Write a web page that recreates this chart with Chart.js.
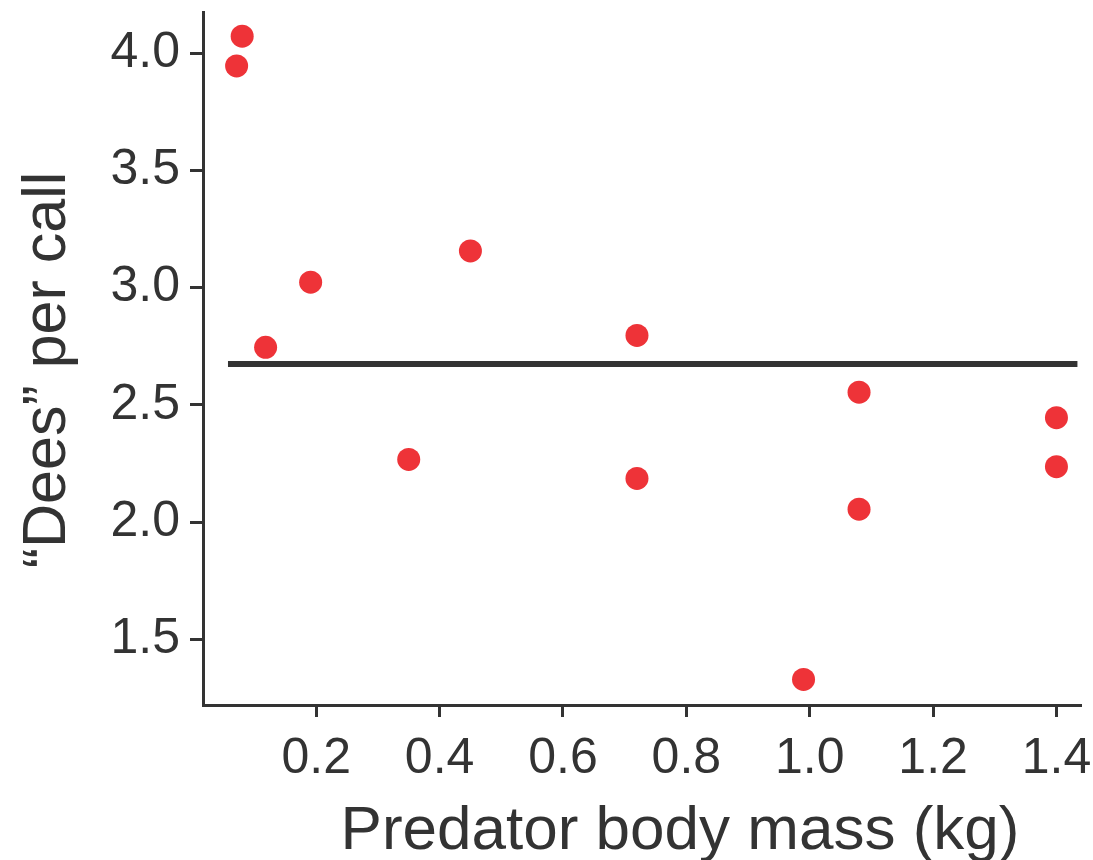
<!DOCTYPE html>
<html>
<head>
<meta charset="utf-8">
<script src="https://cdn.jsdelivr.net/npm/chart.js@4/dist/chart.umd.min.js"></script>
<style>
  html, body { margin: 0; padding: 0; background: #ffffff; }
  #wrap { width: 1093px; height: 860px; position: relative; }
</style>
</head>
<body>
<div id="wrap"><canvas id="c" width="1093" height="860"></canvas></div>
<script>
// Predator body mass (kg)
const massKg = [0.071, 0.080, 0.118, 0.191, 0.350, 0.450, 0.720, 0.720, 0.990, 1.080, 1.080, 1.400, 1.400];
// "Dees" per call
const deesPerCall = [3.945, 4.072, 2.745, 3.023, 2.267, 3.156, 2.796, 2.186, 1.329, 2.554, 2.055, 2.445, 2.236];
// horizontal fitted (mean) line
const fitX = [0.057, 1.434];
const fitY = [2.674, 2.674];
// tick labels
const xTicks = [0.2, 0.4, 0.6, 0.8, 1.0, 1.2, 1.4];
const yTicks = [1.5, 2.0, 2.5, 3.0, 3.5, 4.0];
// axis titles
const xTitle = 'Predator body mass (kg)';
const yTitle = '\u201cDees\u201d per call';

const ink = '#333333';
const FONT = '"Liberation Sans", Arial, sans-serif';
const pts = massKg.map((x, i) => ({ x: x, y: deesPerCall[i] }));
const line = fitX.map((x, i) => ({ x: x, y: fitY[i] }));

const axisTitles = {
  id: 'axisTitles',
  afterDraw(chart) {
    const ctx = chart.ctx;
    ctx.save();
    ctx.fillStyle = ink;
    ctx.textAlign = 'center';
    ctx.textBaseline = 'alphabetic';
    ctx.font = '62px ' + FONT;
    ctx.fillText(xTitle, 680, 849);
    ctx.translate(65, 370);
    ctx.rotate(-Math.PI / 2);
    ctx.font = '61px ' + FONT;
    ctx.fillText(yTitle, 0, 0);
    ctx.restore();
  }
};

new Chart(document.getElementById('c'), {
  type: 'scatter',
  data: {
    datasets: [
      {
        label: 'fit',
        type: 'line',
        data: line,
        borderColor: ink,
        borderWidth: 6,
        borderCapStyle: 'butt',
        pointRadius: 0,
        fill: false,
        order: 2
      },
      {
        label: 'points',
        data: pts,
        backgroundColor: '#ee3338',
        borderWidth: 0,
        pointRadius: 11.5,
        pointHoverRadius: 11.5,
        order: 1
      }
    ]
  },
  plugins: [axisTitles],
  options: {
    responsive: false,
    animation: false,
    events: [],
    layout: { padding: { top: 12, right: 0, left: 0, bottom: 0 } },
    plugins: { legend: { display: false }, tooltip: { enabled: false } },
    scales: {
      x: {
        type: 'linear',
        min: 0.0165,
        max: 1.4406,
        afterBuildTicks: s => { s.ticks = xTicks.map(v => ({ value: v })); },
        afterFit: s => { s.height = 155; s.paddingLeft = 0; s.paddingRight = 0; },
        ticks: {
          color: ink,
          font: { family: FONT, size: 50 },
          padding: 12,
          maxRotation: 0,
          autoSkip: false,
          callback: v => Number(v).toFixed(1)
        },
        grid: { display: true, drawOnChartArea: false, drawTicks: true, tickLength: 12, tickWidth: 3, tickColor: ink },
        border: { display: true, color: ink, width: 3 },
        title: { display: false }
      },
      y: {
        type: 'linear',
        min: 1.22,
        max: 4.175,
        afterBuildTicks: s => { s.ticks = yTicks.map(v => ({ value: v })); },
        afterFit: s => { s.width = 203; s.paddingTop = 0; s.paddingBottom = 0; },
        ticks: {
          color: ink,
          font: { family: FONT, size: 50 },
          padding: 10,
          autoSkip: false,
          callback: v => Number(v).toFixed(1)
        },
        grid: { display: true, drawOnChartArea: false, drawTicks: true, tickLength: 13, tickWidth: 3, tickColor: ink },
        border: { display: true, color: ink, width: 3 },
        title: { display: false }
      }
    }
  }
});
</script>
</body>
</html>
